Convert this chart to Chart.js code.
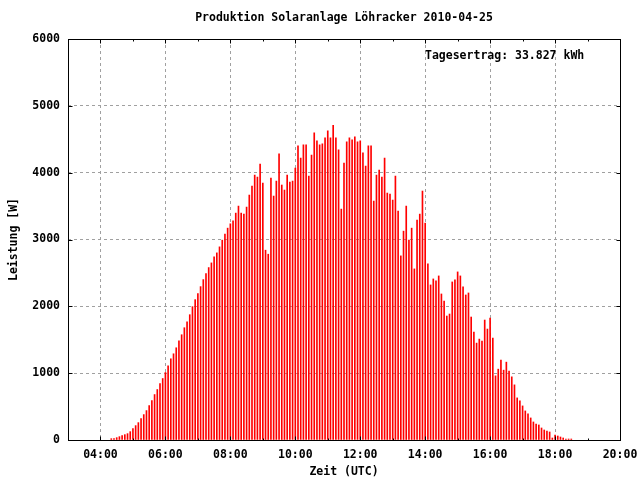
<!DOCTYPE html>
<html>
<head>
<meta charset="utf-8">
<title>Produktion Solaranlage Löhracker 2010-04-25</title>
<script src="https://cdn.jsdelivr.net/npm/chart.js@4.4.1/dist/chart.umd.min.js"></script>
<style>
  html, body { margin: 0; padding: 0; background: #fff; }
  #wrap { width: 640px; height: 480px; }
</style>
</head>
<body>
<div id="wrap"><canvas id="solarChart" width="640" height="480"></canvas></div>
<script>
// Messzeitpunkte (UTC), alle 5 Minuten
const times = [
  '04:20','04:25','04:30','04:35','04:40','04:45','04:50','04:55',
  '05:00','05:05','05:10','05:15','05:20','05:25','05:30','05:35','05:40','05:45','05:50','05:55',
  '06:00','06:05','06:10','06:15','06:20','06:25','06:30','06:35','06:40','06:45','06:50','06:55',
  '07:00','07:05','07:10','07:15','07:20','07:25','07:30','07:35','07:40','07:45','07:50','07:55',
  '08:00','08:05','08:10','08:15','08:20','08:25','08:30','08:35','08:40','08:45','08:50','08:55',
  '09:00','09:05','09:10','09:15','09:20','09:25','09:30','09:35','09:40','09:45','09:50','09:55',
  '10:00','10:05','10:10','10:15','10:20','10:25','10:30','10:35','10:40','10:45','10:50','10:55',
  '11:00','11:05','11:10','11:15','11:20','11:25','11:30','11:35','11:40','11:45','11:50','11:55',
  '12:00','12:05','12:10','12:15','12:20','12:25','12:30','12:35','12:40','12:45','12:50','12:55',
  '13:00','13:05','13:10','13:15','13:20','13:25','13:30','13:35','13:40','13:45','13:50','13:55',
  '14:00','14:05','14:10','14:15','14:20','14:25','14:30','14:35','14:40','14:45','14:50','14:55',
  '15:00','15:05','15:10','15:15','15:20','15:25','15:30','15:35','15:40','15:45','15:50','15:55',
  '16:00','16:05','16:10','16:15','16:20','16:25','16:30','16:35','16:40','16:45','16:50','16:55',
  '17:00','17:05','17:10','17:15','17:20','17:25','17:30','17:35','17:40','17:45','17:50','17:55',
  '18:00','18:05','18:10','18:15','18:20','18:25','18:30'
];

// Leistung in W
const leistung = [
  20, 20, 35, 50, 65, 80, 95, 125,
  170, 215, 260, 320, 380, 440, 515, 590, 680, 755, 845, 920,
  1010, 1110, 1215, 1290, 1380, 1485, 1575, 1680, 1770, 1875, 1995, 2100,
  2190, 2295, 2400, 2490, 2580, 2650, 2740, 2800, 2890, 2990, 3080, 3170,
  3235, 3280, 3395, 3500, 3395, 3380, 3485, 3665, 3800, 3965, 3935, 4130,
  3845, 2840, 2780, 3920, 3650, 3875, 4280, 3815, 3740, 3965, 3860, 3875,
  4070, 4400, 4220, 4415, 4415, 3950, 4265, 4595, 4475, 4415, 4430, 4520,
  4625, 4520, 4710, 4520, 4340, 3455, 4145, 4460, 4520, 4490, 4535, 4460,
  4475, 4295, 4100, 4400, 4400, 3575, 3965, 4040, 3935, 4220, 3695, 3680,
  3590, 3950, 3425, 2755, 3125, 3500, 2990, 3170, 2560, 3290, 3380, 3725,
  3245, 2635, 2320, 2410, 2380, 2455, 2185, 2080, 1855, 1885, 2365, 2395,
  2515, 2455, 2290, 2170, 2200, 1840, 1615, 1450, 1510, 1480, 1795, 1660,
  1825, 1525, 960, 1060, 1195, 1045, 1165, 1030, 945, 825, 630, 585,
  510, 435, 390, 330, 270, 240, 225, 180, 150, 135, 120, 30,
  75, 60, 45, 30, 15, 15, 15
];

const xTickLabels = ['04:00','06:00','08:00','10:00','12:00','14:00','16:00','18:00','20:00'];
const yTickValues = [0, 1000, 2000, 3000, 4000, 5000, 6000];

const titleText = 'Produktion Solaranlage Löhracker 2010-04-25';
const ertragText = 'Tagesertrag: 33.827 kWh';

const FONT = 'DejaVu Sans Mono';
const fontSpec = { family: FONT, size: 11.5, weight: 'bold' };

function toHours(t) {
  const [h, m] = t.split(':').map(Number);
  return h + m / 60;
}
function hourLabel(v) {
  return (v < 10 ? '0' : '') + v + ':00';
}

const points = times.map((t, i) => ({ x: toHours(t), y: leistung[i] }));

// Rahmen, Tics nach innen und Beschriftung wie bei gnuplot
const framePlugin = {
  id: 'frame',
  afterDatasetsDraw(chart) {
    const { ctx, chartArea: a, scales } = chart;
    const L = Math.round(a.left) + 0.5, R = Math.round(a.right) + 0.5;
    const T = Math.round(a.top) + 0.5, B = Math.round(a.bottom) + 0.5;
    ctx.save();
    ctx.strokeStyle = '#000';
    ctx.lineWidth = 1;
    ctx.setLineDash([]);
    ctx.beginPath();

    scales.x.ticks.forEach(tk => {
      if (tk.value <= 3 || tk.value >= 20) return;
      const len = tk.value % 2 === 0 ? 4 : 2;
      const px = Math.round(scales.x.getPixelForValue(tk.value)) + 0.5;
      ctx.moveTo(px, B); ctx.lineTo(px, B - len);
      ctx.moveTo(px, T); ctx.lineTo(px, T + len);
    });
    scales.y.ticks.forEach(tk => {
      if (tk.value <= 0 || tk.value >= 6000) return;
      const py = Math.round(scales.y.getPixelForValue(tk.value)) + 0.5;
      ctx.moveTo(L, py); ctx.lineTo(L + 4, py);
      ctx.moveTo(R, py); ctx.lineTo(R - 4, py);
    });
    ctx.stroke();
    ctx.strokeRect(L, T, R - L, B - T);

    ctx.fillStyle = '#000';
    ctx.font = 'bold 11.5px "' + FONT + '"';
    ctx.textBaseline = 'middle';
    ctx.textAlign = 'center';
    ctx.fillText(titleText, (a.left + a.right) / 2, 18);
    ctx.textAlign = 'left';
    ctx.fillText(ertragText, 425, 56);
    ctx.restore();
  }
};

const ctx = document.getElementById('solarChart').getContext('2d');
new Chart(ctx, {
  type: 'bar',
  data: {
    datasets: [{
      label: 'Leistung',
      data: points,
      backgroundColor: '#ff0000',
      borderWidth: 0,
      barThickness: 1
    }]
  },
  options: {
    responsive: false,
    animation: false,
    layout: { padding: { top: 39, right: 20, left: 0, bottom: 0 } },
    plugins: {
      legend: { display: false },
      tooltip: { enabled: false },
      title: { display: false }
    },
    scales: {
      x: {
        type: 'linear',
        min: 3,
        max: 20,
        offset: false,
        afterFit: s => {
          s.height = 40;
          s.paddingLeft = 0;
          s.paddingRight = 0;
        },
        ticks: {
          stepSize: 1,
          autoSkip: false,
          maxRotation: 0,
          padding: 8,
          color: '#000',
          font: fontSpec,
          callback: v => {
            const s = hourLabel(v);
            return xTickLabels.includes(s) ? s : '';
          }
        },
        grid: {
          offset: false,
          drawTicks: false,
          color: c => (c.tick && c.tick.value % 2 === 0 && c.tick.value > 3 && c.tick.value < 20) ? '#a0a0a0' : 'rgba(0,0,0,0)'
        },
        border: { display: false, dash: [3, 3] },
        title: {
          display: true,
          text: 'Zeit (UTC)',
          color: '#000',
          font: fontSpec,
          padding: { top: 0, bottom: 1 }
        }
      },
      y: {
        min: 0,
        max: 6000,
        afterFit: s => {
          s.width = 68;
          s.paddingTop = 0;
          s.paddingBottom = 0;
        },
        ticks: {
          stepSize: 1000,
          padding: 8,
          color: '#000',
          font: fontSpec,
          callback: v => yTickValues.includes(v) ? String(v) : ''
        },
        grid: {
          drawTicks: false,
          color: c => (c.tick && c.tick.value > 0 && c.tick.value < 6000) ? '#a0a0a0' : 'rgba(0,0,0,0)'
        },
        border: { display: false, dash: [3, 3] },
        title: {
          display: true,
          text: 'Leistung [W]',
          color: '#000',
          font: fontSpec,
          padding: { top: 7, bottom: 0 }
        }
      }
    }
  },
  plugins: [framePlugin]
});
</script>
</body>
</html>
